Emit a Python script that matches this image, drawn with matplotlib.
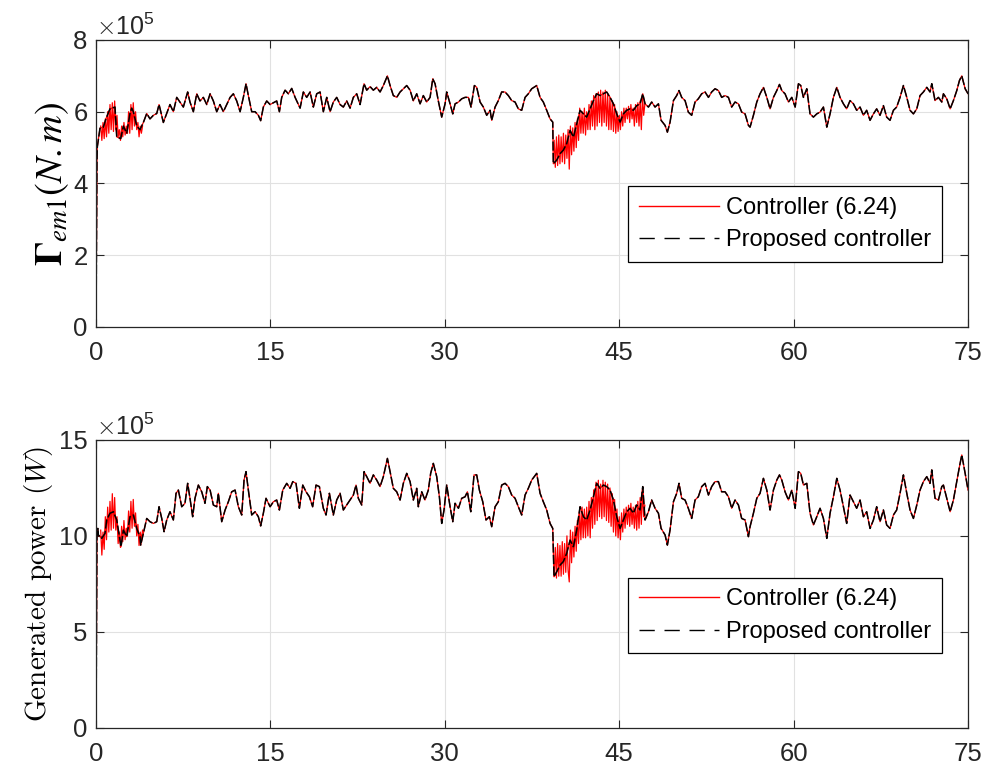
import matplotlib
matplotlib.use("Agg")
import matplotlib.pyplot as plt
from matplotlib.lines import Line2D

# ---- top panel: electromagnetic torque (x1e5 N.m), proposed controller ----
t_top = [0, 0.08, 0.11, 0.34, 0.63, 0.86, 1.20, 1.63, 1.78, 2.12, 2.35, 2.64, 2.92, 3.07, 3.21,
         3.50, 3.78, 4.07, 4.36, 4.64, 4.93, 5.22, 5.42, 5.79, 6.08, 6.36, 6.65, 6.94, 7.22, 7.51,
         7.88, 8.08, 8.37, 8.66, 8.94, 9.23, 9.52, 9.81, 10.09, 10.38, 10.66, 10.95, 11.24, 11.53,
         11.81, 12.10, 12.39, 12.67, 12.90, 13.10, 13.39, 13.68, 13.96, 14.16, 14.39, 14.68, 14.97,
         15.25, 15.54, 15.77, 15.97, 16.26, 16.54, 16.83, 17.12, 17.55, 17.83, 18.12, 18.41, 18.69,
         18.98, 19.27, 19.55, 19.84, 20.13, 20.41, 20.70, 20.99, 21.27, 21.56, 21.85, 22.13, 22.42,
         22.71, 23.05, 23.28, 23.57, 23.85, 24.14, 24.43, 24.71, 25.06, 25.29, 25.57, 25.86, 26.15,
         26.43, 26.72, 27.01, 27.29, 27.58, 27.87, 28.15, 28.44, 28.73, 28.96, 29.16, 29.44, 29.73,
         30.02, 30.16, 30.45, 30.68, 30.88, 31.17, 31.45, 31.74, 32.03, 32.25, 32.54, 32.74, 33.03,
         33.31, 33.60, 33.89, 34.03, 34.32, 34.60, 34.89, 35.18, 35.46, 35.75, 36.04, 36.32, 36.61,
         36.90, 37.18, 37.47, 37.90, 38.19, 38.47, 38.76, 39.05, 39.28, 39.33, 39.62, 39.91, 40.19,
         40.48, 40.77, 41.06, 41.34, 41.63, 41.92, 42.20, 42.49, 42.78, 43.06, 43.35, 43.64, 43.92,
         44.21, 44.50, 44.78, 45.07, 45.36, 45.64, 45.93, 46.22, 46.50, 46.79, 47.02, 47.22, 47.51,
         47.79, 48.08, 48.37, 48.60, 48.94, 49.14, 49.37, 49.66, 49.94, 50.14, 50.37, 50.66, 50.94,
         51.23, 51.52, 51.80, 52.09, 52.38, 52.67, 52.95, 53.24, 53.53, 53.81, 54.10, 54.39, 54.67,
         54.96, 55.25, 55.53, 55.82, 56.11, 56.25, 56.54, 56.83, 57.11, 57.40, 57.69, 57.97, 58.26,
         58.55, 58.78, 58.98, 59.26, 59.55, 59.84, 60.13, 60.41, 60.61, 60.84, 61.13, 61.41, 61.70,
         61.99, 62.27, 62.56, 62.85, 63.13, 63.42, 63.71, 63.99, 64.28, 64.56, 64.85, 65.14, 65.42,
         65.71, 66.00, 66.28, 66.57, 66.86, 67.14, 67.43, 67.72, 68.00, 68.29, 68.58, 68.86, 69.15,
         69.44, 69.73, 70.01, 70.30, 70.59, 70.87, 71.16, 71.45, 71.73, 71.88, 72.16, 72.45, 72.74,
         72.88, 73.17, 73.46, 73.74, 74.03, 74.26, 74.46, 74.75, 75.0]
torque = [0.2, 4.6, 5.02, 5.54, 5.57, 5.81, 6.08, 6.13, 5.30, 5.25, 5.6, 5.40, 5.95, 6.1, 6.0,
          5.6, 5.5, 5.7, 5.95, 5.8, 5.9, 5.95, 6.2, 5.7, 5.95, 6.2, 6.0, 6.4, 6.27, 6.13,
          6.55, 6.27, 6.0, 6.5, 6.3, 6.4, 6.2, 6.5, 6.3, 6.0, 6.2, 6.0, 6.2, 6.4,
          6.5, 6.3, 6.0, 6.4, 6.78, 6.45, 6.0, 6.0, 5.9, 5.75, 6.13, 6.3, 6.2,
          6.25, 6.3, 6.0, 6.4, 6.6, 6.5, 6.65, 6.4, 6.1, 6.55, 6.4, 6.55, 6.13,
          6.5, 6.55, 6.0, 6.4, 6.0, 6.27, 6.4, 6.2, 6.13, 6.3, 6.1, 6.4, 6.5,
          6.2, 6.78, 6.6, 6.7, 6.6, 6.68, 6.55, 6.73, 7.0, 6.73, 6.45, 6.4, 6.55,
          6.64, 6.73, 6.6, 6.3, 6.5, 6.22, 6.45, 6.27, 6.4, 6.92, 6.78, 6.3, 5.85,
          6.22, 6.55, 6.22, 5.94, 6.22, 6.27, 6.36, 6.4, 6.4, 6.13, 6.73, 6.68, 6.27,
          6.13, 5.9, 6.04, 5.76, 6.13, 6.31, 6.55, 6.55, 6.45, 6.31, 6.27, 6.08, 6.04,
          6.4, 6.5, 6.64, 6.73, 6.4, 6.27, 6.04, 5.8, 5.71, 4.55, 4.65, 4.83, 4.93,
          5.11, 5.48, 5.29, 5.66, 6.04, 5.94, 5.85, 6.08, 6.31, 6.5, 6.45, 6.5, 6.55,
          6.4, 6.22, 5.94, 5.71, 5.94, 6.04, 6.08, 6.04, 6.17, 6.22, 6.5, 6.22, 6.13,
          6.27, 6.13, 6.22, 5.76, 5.62, 5.43, 5.71, 6.31, 6.45, 6.59, 6.4, 6.31, 5.99,
          5.9, 6.27, 6.36, 6.5, 6.55, 6.4, 6.55, 6.64, 6.59, 6.4, 6.45, 6.4, 6.13,
          6.27, 6.22, 5.99, 5.94, 5.62, 5.57, 5.9, 6.27, 6.5, 6.68, 6.4, 6.08, 6.4,
          6.59, 6.76, 6.59, 6.5, 6.27, 6.4, 6.13, 6.78, 6.73, 6.4, 6.64, 5.94, 5.85,
          5.94, 5.99, 6.13, 5.57, 5.94, 6.4, 6.68, 6.4, 6.22, 6.08, 6.31, 6.22, 6.04,
          6.13, 5.9, 6.04, 5.76, 5.94, 6.08, 5.9, 6.17, 5.85, 5.76, 6.04, 6.13, 6.4,
          6.73, 6.4, 6.04, 5.94, 6.08, 6.45, 6.55, 6.68, 6.55, 6.78, 6.31, 6.4, 6.27,
          6.5, 6.36, 6.08, 6.31, 6.59, 6.87, 7.0, 6.64, 6.5]

# ---- bottom panel: generated power (x1e5 W), proposed controller ----
t_bot = [0, 0.08, 0.15, 0.20, 0.49, 0.77, 0.92, 1.20, 1.49, 1.78, 2.06, 2.15, 2.35, 2.64, 2.92,
         3.21, 3.50, 3.78, 3.84, 4.07, 4.36, 4.64, 4.93, 5.22, 5.42, 5.65, 5.85, 6.08, 6.36, 6.65,
         6.88, 7.08, 7.37, 7.65, 7.88, 8.08, 8.31, 8.51, 8.80, 9.09, 9.37, 9.57, 9.81, 10.09, 10.38,
         10.52, 10.81, 11.10, 11.38, 11.67, 11.96, 12.24, 12.53, 12.73, 12.90, 13.10, 13.39, 13.68,
         13.96, 14.16, 14.39, 14.62, 14.97, 15.25, 15.54, 15.77, 16.06, 16.40, 16.69, 16.92, 17.20,
         17.49, 17.78, 18.06, 18.35, 18.63, 18.92, 19.21, 19.55, 19.78, 20.07, 20.41, 20.70, 20.99,
         21.27, 21.56, 21.85, 22.13, 22.36, 22.56, 22.85, 23.05, 23.28, 23.57, 23.85, 24.14, 24.43,
         24.71, 25.06, 25.29, 25.57, 25.86, 26.15, 26.43, 26.72, 27.01, 27.29, 27.58, 27.72, 28.01,
         28.29, 28.58, 28.78, 29.01, 29.30, 29.53, 29.73, 29.93, 30.16, 30.45, 30.68, 30.88, 31.17,
         31.45, 31.74, 31.94, 32.23, 32.51, 32.74, 32.97, 33.26, 33.54, 33.83, 34.03, 34.32, 34.60,
         34.89, 35.18, 35.46, 35.75, 36.04, 36.32, 36.61, 36.90, 37.18, 37.47, 37.90, 38.19, 38.47,
         38.76, 39.05, 39.28, 39.39, 39.62, 39.91, 40.19, 40.48, 40.77, 41.06, 41.34, 41.63, 41.92,
         42.20, 42.49, 42.78, 43.06, 43.35, 43.64, 43.92, 44.21, 44.50, 44.78, 45.07, 45.36, 45.64,
         45.93, 46.22, 46.50, 46.79, 47.02, 47.22, 47.51, 47.79, 48.08, 48.37, 48.60, 48.94, 49.14,
         49.37, 49.66, 49.94, 50.14, 50.37, 50.66, 50.94, 51.23, 51.52, 51.80, 52.09, 52.38, 52.67,
         52.95, 53.24, 53.53, 53.81, 54.10, 54.39, 54.67, 54.96, 55.25, 55.53, 55.82, 56.11, 56.25,
         56.54, 56.83, 57.11, 57.40, 57.69, 57.97, 58.26, 58.55, 58.78, 58.98, 59.26, 59.55, 59.84,
         60.13, 60.41, 60.61, 60.84, 61.13, 61.41, 61.70, 61.99, 62.27, 62.56, 62.85, 63.13, 63.42,
         63.71, 63.99, 64.28, 64.56, 64.85, 65.14, 65.42, 65.71, 66.00, 66.28, 66.57, 66.86, 67.14,
         67.43, 67.72, 68.00, 68.29, 68.58, 68.86, 69.15, 69.44, 69.73, 70.01, 70.30, 70.59, 70.87,
         71.16, 71.45, 71.73, 71.88, 72.16, 72.45, 72.74, 72.88, 73.17, 73.46, 73.74, 74.03, 74.26,
         74.46, 74.75, 75.0]
power = [0.2, 10.0, 10.39, 10.05, 9.87, 10.13, 10.83, 11.18, 11.26, 10.83, 9.78, 9.44, 10.3, 9.96, 11.0,
         11.09, 10.39, 9.96, 9.52, 10.13, 10.91, 10.74, 10.65, 10.74, 11.52, 10.91, 10.22, 10.83, 11.26, 10.83,
         12.22, 12.39, 11.52, 11.7, 12.74, 11.96, 11.0, 11.96, 12.65, 12.3, 11.7, 12.57, 12.39, 11.61, 11.52,
         12.22, 10.74, 11.35, 11.78, 12.3, 12.39, 11.52, 11.09, 12.91, 13.35, 12.39, 11.09, 11.26,
         11.0, 10.52, 11.18, 11.96, 11.52, 11.78, 11.87, 11.35, 12.39, 12.74, 12.48, 12.83, 12.74,
         11.44, 12.65, 12.3, 12.04, 11.52, 12.65, 12.57, 11.44, 11.09, 12.22, 11.09, 11.87, 12.22,
         11.35, 11.61, 11.87, 12.13, 12.65, 11.96, 11.61, 13.35, 13.09, 12.74, 13.18, 12.91, 12.57,
         13.09, 14.04, 13.35, 12.48, 12.3, 11.87, 12.74, 13.26, 12.83, 11.87, 12.48, 11.52, 12.3,
         11.87, 12.39, 13.26, 13.78, 13.09, 12.04, 10.65, 11.35, 12.65, 11.52, 10.74, 11.7, 11.44,
         11.96, 12.04, 12.3, 11.26, 13.18, 13.18, 12.39, 11.78, 10.83, 11.0, 10.48, 11.52, 11.78,
         12.65, 12.74, 12.57, 12.13, 11.96, 11.52, 11.09, 12.13, 12.48, 12.91, 13.26, 12.22, 11.78,
         11.35, 10.65, 10.39, 7.87, 8.13, 8.48, 8.66, 9.09, 9.78, 9.44, 10.3, 11.52, 11.0,
         10.83, 11.35, 12.04, 12.74, 12.48, 12.65, 12.57, 12.39, 11.87, 11.0, 10.39, 10.83, 11.26,
         11.44, 11.18, 11.61, 11.35, 12.57, 10.83, 11.26, 11.87, 11.44, 11.18, 10.39, 10.05, 9.52,
         10.31, 11.78, 12.22, 12.74, 11.96, 11.87, 11.44, 10.91, 11.87, 12.04, 12.57, 12.74, 12.13,
         12.57, 12.83, 12.83, 12.3, 12.3, 12.04, 11.44, 11.87, 11.61, 10.91, 10.83, 9.96, 10.48,
         11.18, 11.96, 12.22, 13.0, 12.39, 11.35, 12.39, 12.91, 13.18, 12.91, 12.3, 11.87, 12.39,
         11.44, 13.35, 13.26, 12.65, 12.74, 11.18, 10.57, 11.0, 11.44, 10.91, 9.87, 11.18, 12.04,
         13.0, 12.39, 11.52, 10.65, 12.13, 11.78, 11.44, 11.87, 11.0, 11.26, 10.39, 10.83, 11.52,
         10.74, 11.35, 10.57, 10.39, 11.09, 11.35, 12.22, 13.18, 12.22, 11.35, 10.91, 11.61, 12.39,
         12.83, 13.09, 12.74, 13.44, 11.96, 11.87, 12.57, 12.65, 11.96, 11.26, 11.87, 12.83, 13.61,
         14.22, 13.26, 12.39]

# ---- extra oscillation of controller (6.24), start-up and gust segments ----
t_osc1 = [0.4, 0.5, 0.6, 0.7, 0.8, 0.9, 1.0, 1.1, 1.2, 1.3, 1.4, 1.5, 1.6, 1.7, 1.8, 1.9, 2.0, 2.1, 2.2,
          2.3, 2.4, 2.5, 2.6, 2.7, 2.8, 2.9, 3.0, 3.1, 3.2, 3.3, 3.4, 3.5, 3.6, 3.7, 3.8, 3.9, 4.0]
torque_osc1 = [5.6, 5.2, 5.7, 5.25, 5.8, 5.3, 6.0, 5.4, 6.2, 5.5, 6.25, 5.45, 6.3, 5.5, 5.9, 5.3, 5.5,
               5.2, 5.6, 5.3, 5.7, 5.35, 5.6, 5.4, 6.0, 5.4, 6.2, 5.5, 6.25, 5.6, 6.0, 5.5, 5.7, 5.3,
               5.6, 5.4, 5.6]
power_osc1 = [10.3, 9.0, 10.2, 9.3, 11.0, 9.8, 11.5, 10.2, 11.8, 10.3, 12.2, 10.4, 12.0, 10.3, 11.0, 9.6,
              10.2, 9.4, 10.5, 9.7, 10.8, 9.8, 10.4, 10.0, 11.3, 10.2, 11.8, 10.4, 11.9, 10.5, 11.2, 10.0,
              10.6, 9.5, 10.2, 9.8, 10.3]

t_osc2 = [39.4, 39.5, 39.6, 39.7, 39.8, 39.9, 40.0, 40.1, 40.2, 40.3, 40.4, 40.5, 40.6, 40.7, 40.8, 40.9,
          41.0, 41.1, 41.2, 41.3, 41.4, 41.5, 41.6, 41.7, 41.8, 41.9, 42.0, 42.1, 42.2, 42.3, 42.4, 42.5,
          42.6, 42.7, 42.8, 42.9, 43.0, 43.1, 43.2, 43.3, 43.4, 43.5, 43.6, 43.7, 43.8, 43.9, 44.0, 44.1,
          44.2, 44.3, 44.4, 44.5, 44.6, 44.7, 44.8, 44.9, 45.0, 45.1, 45.2, 45.3, 45.4, 45.5, 45.6, 45.7,
          45.8, 45.9, 46.0, 46.1, 46.2, 46.3, 46.4, 46.5, 46.6, 46.7, 46.8, 46.9, 47.0, 47.1, 47.2]
torque_osc2 = [5.2, 4.45, 5.3, 4.5, 5.35, 4.55, 5.3, 4.6, 5.4, 4.55, 5.35, 4.7, 5.5, 4.4, 5.6, 4.8,
               5.55, 4.9, 5.7, 5.0, 5.8, 5.2, 6.1, 5.4, 6.0, 5.4, 6.1, 5.35, 6.0, 5.5, 6.2, 5.5,
               6.3, 5.6, 6.45, 5.5, 6.5, 5.6, 6.55, 5.7, 6.6, 5.6, 6.55, 5.7, 6.6, 5.6, 6.5, 5.5,
               6.4, 5.5, 6.3, 5.45, 6.2, 5.4, 6.0, 5.45, 5.9, 5.5, 6.0, 5.6, 6.1, 5.7, 6.1, 5.8,
               6.15, 5.7, 6.2, 5.8, 6.1, 5.6, 6.2, 5.7, 6.25, 5.6, 6.3, 5.5, 6.45, 5.9, 6.2]
power_osc2 = [7.9, 9.4, 7.8, 9.6, 7.9, 9.5, 7.9, 9.7, 8.0, 9.6, 8.1, 10.0, 8.2, 7.6, 10.3, 8.6,
              10.2, 8.9, 10.5, 9.2, 10.8, 9.6, 11.3, 9.8, 11.5, 9.9, 11.4, 9.9, 11.5, 10.0, 11.8, 9.9,
              12.0, 10.4, 12.4, 10.6, 12.8, 10.8, 12.9, 11.0, 12.7, 10.9, 12.9, 11.0, 12.8, 10.8, 12.7, 10.7,
              12.5, 10.5, 12.2, 10.2, 11.9, 10.0, 11.4, 9.9, 11.0, 9.8, 11.2, 10.2, 11.4, 10.4, 11.5, 10.6,
              11.6, 10.5, 11.7, 10.6, 11.5, 10.4, 11.6, 10.3, 11.8, 10.4, 12.0, 10.6, 12.4, 11.0, 11.6]

x_ticks = [0, 15, 30, 45, 60, 75]
torque_ticks = [0, 2, 4, 6, 8]
power_ticks = [0, 5, 10, 15]

plt.rcParams["font.family"] = ["Liberation Sans", "DejaVu Sans"]
plt.rcParams["mathtext.fontset"] = "cm"

AX_COL = "#262626"


def style_axes(ax, yticks, ylim):
    ax.set_xlim(0, 75)
    ax.set_ylim(*ylim)
    ax.set_xticks(x_ticks)
    ax.set_yticks(yticks)
    ax.grid(True, color="#e1e1e1", linewidth=0.8)
    ax.set_axisbelow(True)
    ax.tick_params(direction="in", length=6, width=0.8, colors=AX_COL,
                   labelsize=18.5, top=True, right=True)
    ax.tick_params(axis="x", pad=10)
    ax.tick_params(axis="y", pad=6)
    for s in ax.spines.values():
        s.set_color(AX_COL)
        s.set_linewidth(0.9)
    ax.text(0.0, 1.0, r"$\times\mathregular{10^{5}}$", transform=ax.transAxes,
            fontsize=18, color=AX_COL, ha="left", va="bottom")


def draw_panel(ax, t, v, t1, v1, t2, v2, anchor_y):
    ax.plot(t, v, color="red", lw=0.9)
    ax.plot(t1, v1, color="red", lw=0.9)
    ax.plot(t2, v2, color="red", lw=0.9)
    ax.plot(t, v, color="black", lw=1.1, dashes=(6, 1.5))
    # legend proxies with MATLAB-like long dashes
    h_red = Line2D([], [], color="red", lw=1.0)
    h_blk = Line2D([], [], color="black", lw=1.0, dashes=(11, 7))
    leg = ax.legend([h_red, h_blk], ["Controller (6.24)", "Proposed controller"],
                    loc="lower right", bbox_to_anchor=(0.970, anchor_y), fontsize=17,
                    handlelength=3.4, handletextpad=0.3, fancybox=False, framealpha=1,
                    edgecolor="black", borderaxespad=0, borderpad=0.45, labelspacing=0.45)
    leg.get_frame().set_linewidth(0.9)


fig = plt.figure(figsize=(9.85, 7.73), dpi=100)

ax1 = fig.add_axes([0.0975, 0.577, 0.8853, 0.3713])
style_axes(ax1, torque_ticks, (0, 8))
draw_panel(ax1, t_top, torque, t_osc1, torque_osc1, t_osc2, torque_osc2, 0.226)
ax1.set_ylabel(r"$\mathbf{\Gamma}_{em1}(N{.}m)$", fontsize=27.5, labelpad=2,
               math_fontfamily="stix")

ax2 = fig.add_axes([0.0975, 0.0586, 0.8853, 0.3722])
style_axes(ax2, power_ticks, (0, 15))
draw_panel(ax2, t_bot, power, t_osc1, power_osc1, t_osc2, power_osc2, 0.258)
ax2.set_ylabel(r"Generated power $(W)$", fontsize=21, labelpad=3,
               fontfamily="cmr10", math_fontfamily="cm")

fig.savefig("out.png", dpi=100)
